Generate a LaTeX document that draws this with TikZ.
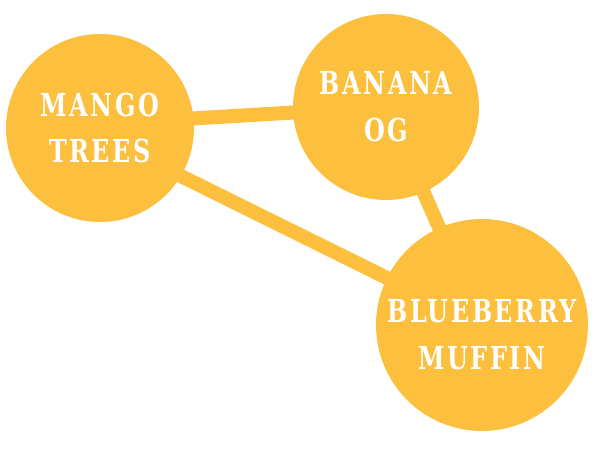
\documentclass[tikz,border=0pt]{standalone}
\usepackage{fontspec}
\newfontfamily\slabfont{DejaVu Serif Condensed}[BoldFont={* Bold}, FakeStretch=0.84, LetterSpace=8]
\usetikzlibrary{backgrounds}
\definecolor{mango}{RGB}{252,192,62}

\begin{document}
\begin{tikzpicture}[
    tag/.style={align=center, text=white, inner sep=0pt,
        font=\slabfont\bfseries\fontsize{18}{26.7}\selectfont},
    blob/.style={circle, fill=mango, inner sep=0pt, tag},
    link/.style={draw=mango, line width=8pt}
]
\useasboundingbox (0,0) rectangle (12,9.22);
\node[blob, minimum size=3.76cm] (mangotrees) at (2.00,6.66) {MANGO\\TREES};
\node[blob, minimum size=3.72cm] (bananaog) at (7.72,7.08) {BANANA\\OG};
\node[blob, minimum size=4.24cm,
      label={[tag, yshift=-0.2cm]center:BLUEBERRY\\MUFFIN}] (blueberry) at (9.64,2.72) {};

\begin{scope}[on background layer]
\draw[link] ([yshift=0.08cm]mangotrees.center) -- (bananaog.center);
\draw[link] ([yshift=-0.16cm]mangotrees.center) -- (blueberry.center);
\draw[link] (bananaog.center) -- (blueberry.center);
\end{scope}
\end{tikzpicture}
\end{document}
